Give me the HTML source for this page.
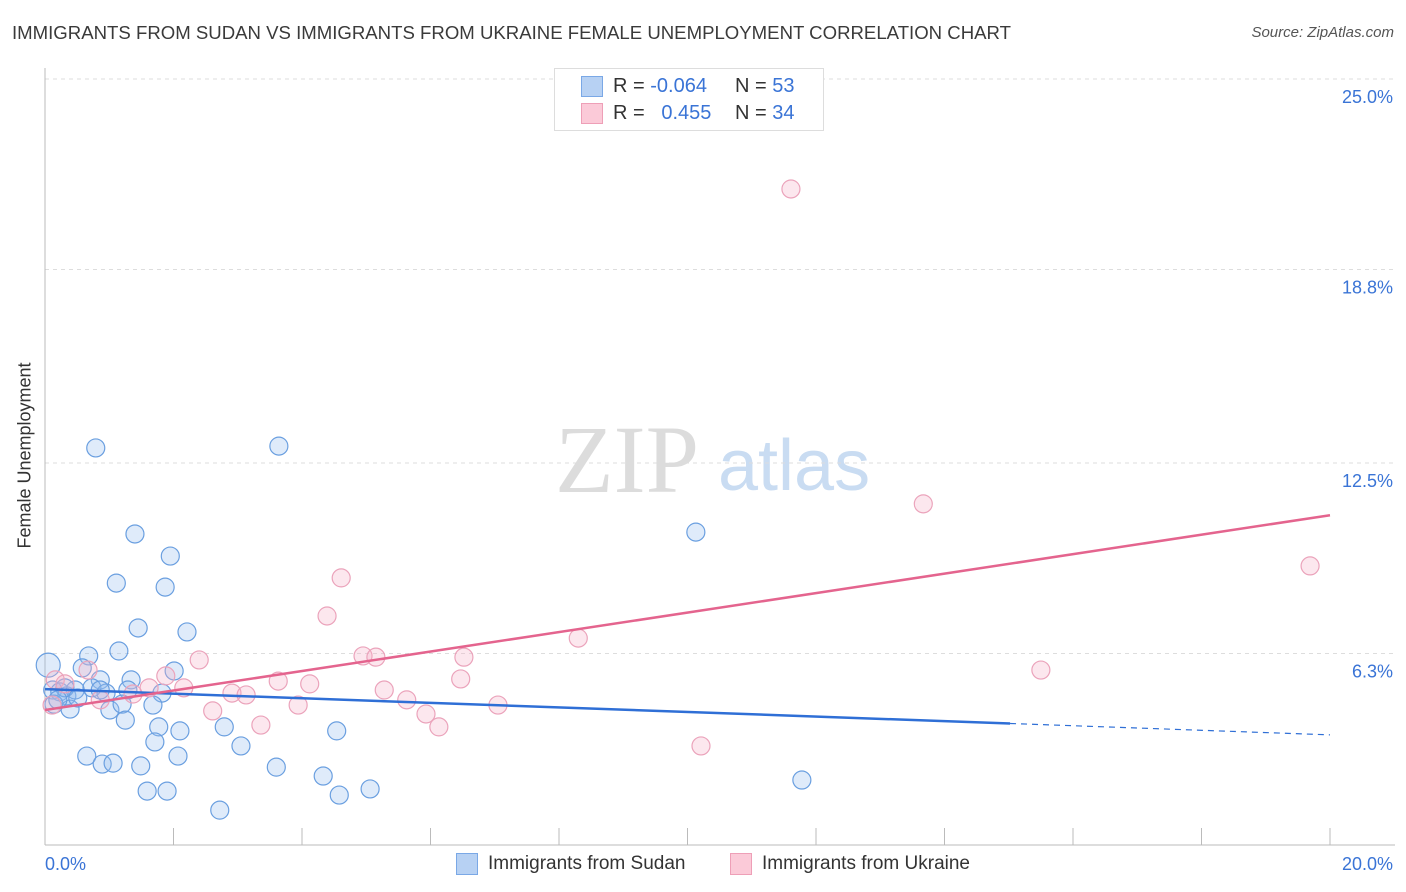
<!DOCTYPE html>
<html><head><meta charset="utf-8"><style>
body{margin:0;background:#fff;font-family:"Liberation Sans",sans-serif;}
#wrap{position:relative;width:1406px;height:892px;overflow:hidden;}
.t{position:absolute;white-space:nowrap;}
</style></head><body>
<div id="wrap">
<div class="t" style="left:12px;top:22px;font-size:18.6px;color:#3a3a3a;">IMMIGRANTS FROM SUDAN VS IMMIGRANTS FROM UKRAINE FEMALE UNEMPLOYMENT CORRELATION CHART</div>
<div class="t" style="right:12px;top:24px;font-size:15px;color:#555;font-style:italic;">Source: ZipAtlas.com</div>
<div class="t" style="left:-68px;top:445px;font-size:18px;color:#333;transform:rotate(-90deg);">Female Unemployment</div>
<svg id="svg" width="1406" height="892" style="position:absolute;left:0;top:0;">
<text x="555" y="492" font-family="Liberation Serif,serif" font-size="96" fill="#dcdcdc">ZIP</text>
<text x="718" y="490" font-family="Liberation Sans,sans-serif" font-size="72" fill="#c9dcf2">atlas</text>
</svg>
<div style="position:absolute;left:554px;top:68px;width:268px;height:61px;border:1px solid #ddd;background:#fff;">
 <div style="position:absolute;left:26px;top:7px;width:20px;height:19px;background:#b7d1f3;border:1px solid #7aa8e6;"></div>
 <div class="t" style="left:58px;top:6px;font-size:20px;color:#333;">R = <span style="color:#3a74d6">-0.064</span></div>
 <div class="t" style="left:180px;top:6px;font-size:20px;color:#333;">N = <span style="color:#3a74d6">53</span></div>
 <div style="position:absolute;left:26px;top:34px;width:20px;height:19px;background:#fbcad8;border:1px solid #ee9fb7;"></div>
 <div class="t" style="left:58px;top:33px;font-size:20px;color:#333;">R = &nbsp;&nbsp;<span style="color:#3a74d6">0.455</span></div>
 <div class="t" style="left:180px;top:33px;font-size:20px;color:#333;">N = <span style="color:#3a74d6">34</span></div>
</div>
<div style="position:absolute;left:456px;top:853px;width:20px;height:20px;background:#b7d1f3;border:1px solid #7aa8e6;"></div>
<div class="t" style="left:488px;top:853px;font-size:19px;color:#333;">Immigrants from Sudan</div>
<div style="position:absolute;left:730px;top:853px;width:20px;height:20px;background:#fbcad8;border:1px solid #ee9fb7;"></div>
<div class="t" style="left:762px;top:853px;font-size:19px;color:#333;">Immigrants from Ukraine</div>
</div>
<script>
const yTicks=[25,18.8,12.5,6.3];
const yTickLabels=["25.0%","18.8%","12.5%","6.3%"];
const xEndLabels=["0.0%","20.0%"];
const sudanX=[0.79,3.64,1.40,1.95,1.11,1.87,1.45,2.21,1.15,0.68,0.58,0.05,2.01,0.86,1.34,0.73,1.29,1.82,0.95,0.12,0.23,0.34,0.47,0.14,0.39,1.01,1.20,1.68,1.25,1.77,2.10,2.79,1.71,3.05,4.54,0.65,2.07,0.89,1.06,1.49,3.60,4.33,1.59,1.90,4.58,5.06,2.72,10.13,11.78,0.31,0.51,0.20,0.86];
const sudanY=[12.99,13.05,10.19,9.47,8.59,8.46,7.13,7.00,6.38,6.22,5.83,5.92,5.73,5.44,5.44,5.18,5.11,5.01,5.01,5.11,5.05,4.92,5.11,4.65,4.49,4.46,4.65,4.62,4.13,3.91,3.78,3.91,3.42,3.29,3.78,2.96,2.96,2.70,2.73,2.64,2.60,2.31,1.82,1.82,1.69,1.89,1.20,10.25,2.18,5.18,4.85,4.79,5.11];
const ukraineX=[11.61,13.67,19.69,4.61,4.39,8.30,15.50,4.95,5.15,6.52,2.40,0.67,1.88,3.63,4.12,6.47,1.62,2.16,5.28,2.91,3.13,1.37,5.63,3.94,7.05,2.61,5.93,3.36,6.13,10.21,0.16,0.31,0.86,0.11];
const ukraineY=[21.42,11.17,9.15,8.76,7.52,6.80,5.76,6.22,6.18,6.18,6.09,5.76,5.57,5.40,5.31,5.47,5.18,5.18,5.11,5.01,4.95,4.98,4.79,4.62,4.62,4.43,4.33,3.97,3.91,3.29,5.44,5.31,4.79,4.62];
const sudanTrend=[5.14,3.65]; const sudanSolidEnd=15.02;
const ukraineTrend=[4.46,10.8];
const X0=45,X1=1330,Y0=847,PY=30.72;
const sx=v=>X0+(X1-X0)*v/20, sy=v=>Y0-v*PY;
const svg=document.getElementById('svg');const NS='http://www.w3.org/2000/svg';
function mk(t,a){const e=document.createElementNS(NS,t);for(const k in a)e.setAttribute(k,a[k]);svg.appendChild(e);return e;}
yTicks.forEach((v,i)=>{
 const g=mk('line',{x1:45,x2:1395,y1:sy(v),y2:sy(v),stroke:'#ddd','stroke-dasharray':'4,4'});
 
 
 const t=mk('text',{x:1393,y:sy(v)+24,'text-anchor':'end','font-size':18,fill:'#3a74d6','font-family':'Liberation Sans,sans-serif'});t.textContent=yTickLabels[i];
 
 
});
let ax=mk('line',{x1:45,x2:45,y1:68,y2:845,stroke:'#bbb'});


ax=mk('line',{x1:45,x2:1395,y1:845,y2:845,stroke:'#bbb'});


for(let i=1;i<=10;i++){const t=mk('line',{x1:sx(i*2),x2:sx(i*2),y1:828,y2:845,stroke:'#bbb'});
 
 }
[[0,45,'start'],[20,1393,'end']].forEach((d,i)=>{const t=mk('text',{x:d[1],y:870,'text-anchor':d[2],'font-size':18,fill:'#3a74d6','font-family':'Liberation Sans,sans-serif'});t.textContent=xEndLabels[i];
 
 });
sudanX.forEach((x,i)=>{const c=mk('circle',{cx:sx(x),cy:sy(sudanY[i]),r:(x<0.1?12:9),fill:'rgba(150,188,238,0.3)',stroke:'#6a9fe0','stroke-width':1.2});
 
 });
ukraineX.forEach((x,i)=>{const c=mk('circle',{cx:sx(x),cy:sy(ukraineY[i]),r:9,fill:'rgba(245,175,198,0.3)',stroke:'#eba3bb','stroke-width':1.2});
 
 });
const bl=v=>sudanTrend[0]+(sudanTrend[1]-sudanTrend[0])*v/20;
let l=mk('line',{x1:sx(0),y1:sy(bl(0)),x2:sx(sudanSolidEnd),y2:sy(bl(sudanSolidEnd)),stroke:'#2f6fd6','stroke-width':2.5});


l=mk('line',{x1:sx(sudanSolidEnd),y1:sy(bl(sudanSolidEnd)),x2:sx(20),y2:sy(bl(20)),stroke:'#2f6fd6','stroke-width':1.2,'stroke-dasharray':'6,5'});


l=mk('line',{x1:sx(0),y1:sy(ukraineTrend[0]),x2:sx(20),y2:sy(ukraineTrend[1]),stroke:'#e4648e','stroke-width':2.5});


</script>
</body></html>
